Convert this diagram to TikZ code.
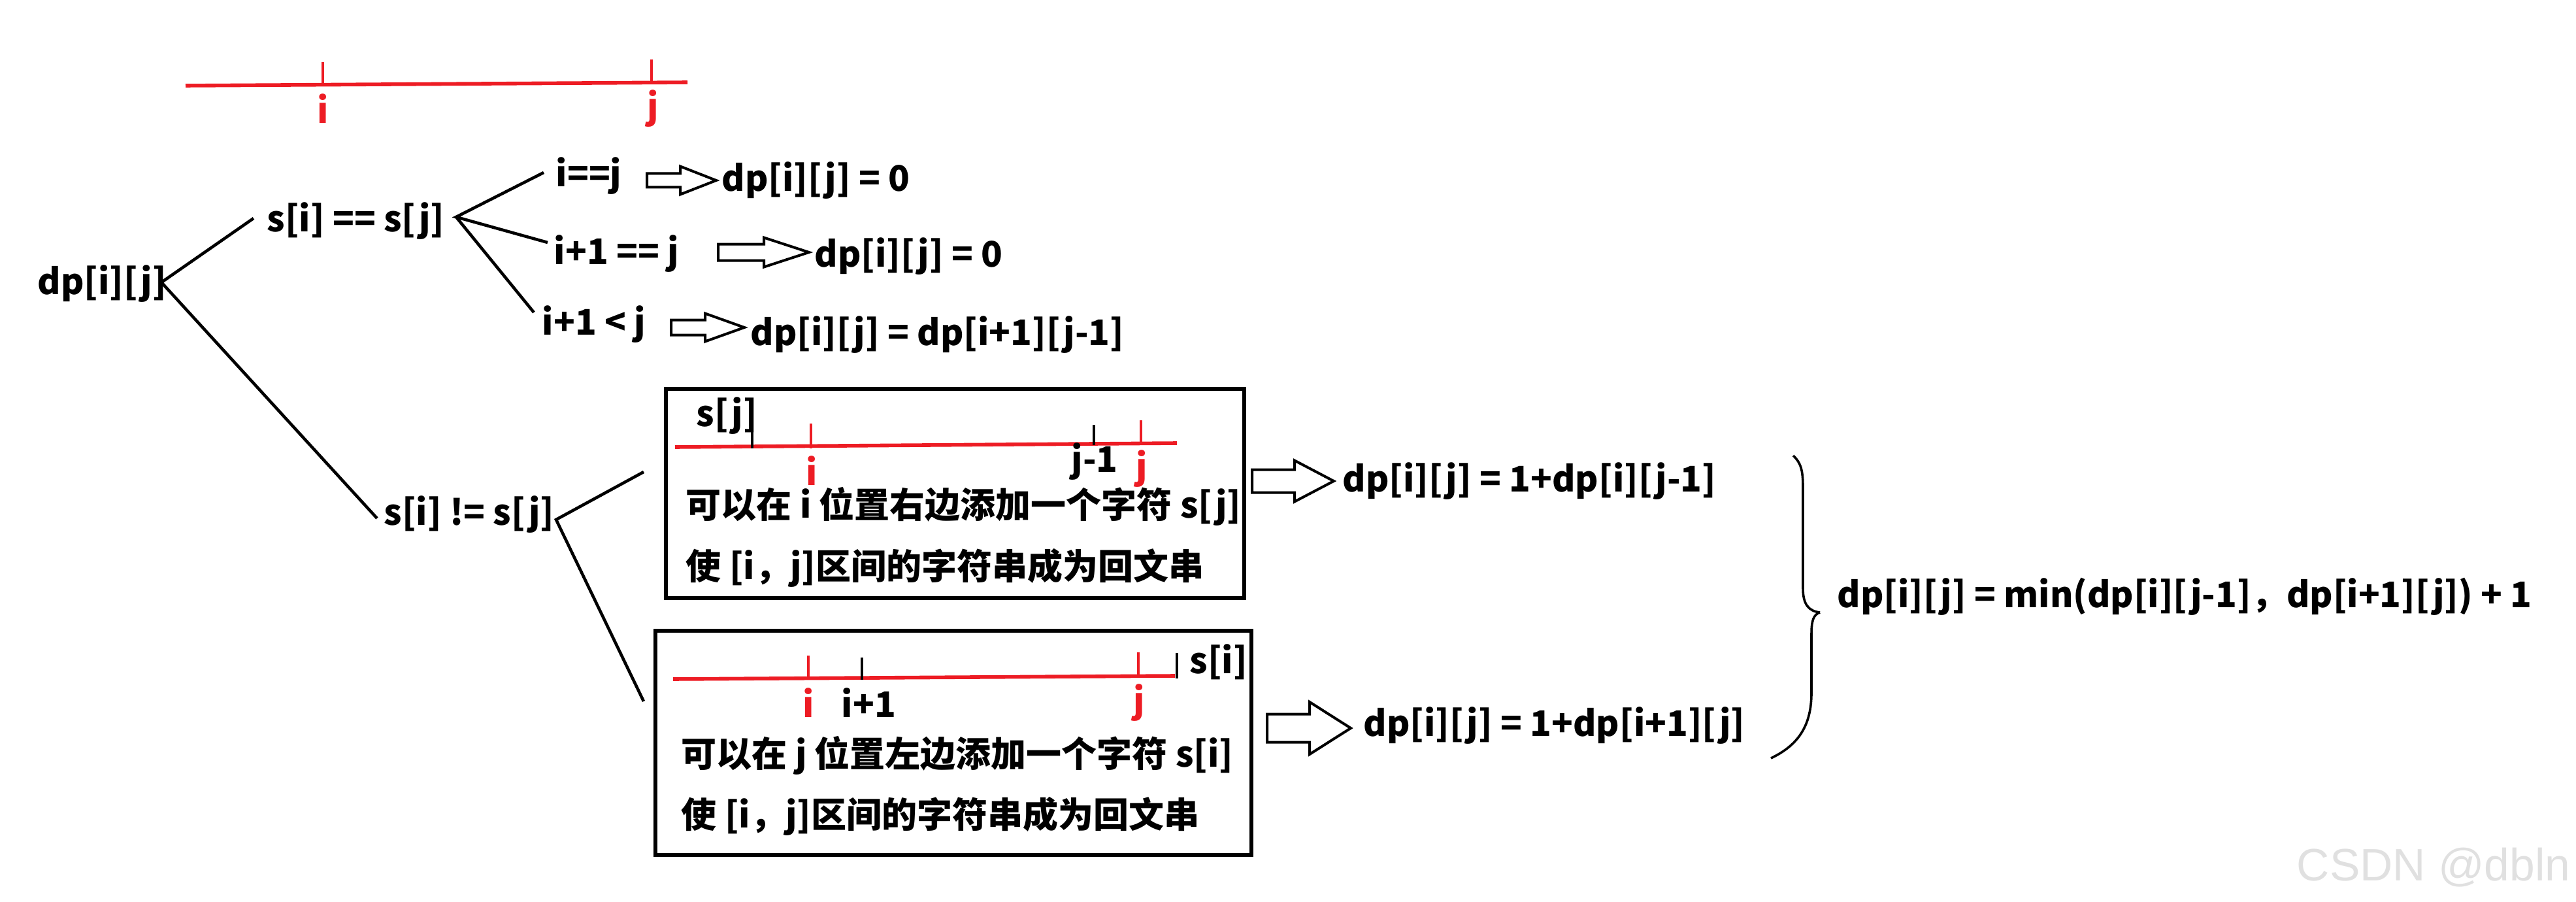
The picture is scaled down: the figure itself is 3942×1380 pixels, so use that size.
\documentclass[tikz,border=0pt]{standalone}
\usepackage{fontspec}
\setmainfont{Noto Sans CJK SC}
\newfontfamily\wmfont{Liberation Sans}
\newcommand\myfs{\fontsize{13.5pt}{16pt}\selectfont\bfseries}
\definecolor{pred}{HTML}{ED1C24}
\newcommand\barrow[6]{\draw[barr] ({#1},{#4-#5}) -- ({#2},{#4-#5}) -- ({#2},{#4-#6}) -- ({#3},{#4}) -- ({#2},{#4+#6}) -- ({#2},{#4+#5}) -- ({#1},{#4+#5}) -- cycle;}
\begin{document}
\begin{tikzpicture}[x=0.25pt,y=-0.25pt,
  txt/.style={anchor=base west,inner sep=0pt,font=\myfs},
  lbl/.style={anchor=base,inner sep=0pt,font=\myfs},
  conn/.style={line width=1.15pt},
  redl/.style={draw=pred,line width=1.4pt},
  tick/.style={line width=0.85pt},
  boxr/.style={draw,line width=1.5pt,inner sep=0pt,anchor=north west},
  barr/.style={line width=1pt,line join=miter}]
\useasboundingbox (0,0) rectangle (3942,1380);
% top scale
\draw[redl] (284,131) -- (1052,126);
\draw[tick,pred] (494,95) -- (494,130);
\draw[tick,pred] (997,91) -- (997,126);
\node[lbl,text=pred] (ti) at (494,189) {i};
\node[lbl,text=pred] (tj) at (999,183) {j};
% tree
\node[txt] (root) at (57,450) {dp[i][j]};
\node[txt] (eq) at (408,354) {s[i] == s[j]};
\node[txt] (c1) at (850,285) {i==j};
\node[txt] (r1) at (1104,293) {dp[i][j] = 0};
\node[txt] (c2) at (847,404) {i+1 == j};
\node[txt] (r2) at (1246,409) {dp[i][j] = 0};
\node[txt] (c3) at (829,513) {i+1 < j};
\node[txt] (r3) at (1148,528) {dp[i][j] = dp[i+1][j-1]};
\node[txt] (ne) at (587,803) {s[i] != s[j]};
\coordinate (b0) at (247,432);
\coordinate (e0a) at (388,334);
\coordinate (e0b) at (577,793);
\coordinate (b1) at (698,332);
\coordinate (e1a) at (832,264);
\coordinate (e1b) at (838,371);
\coordinate (e1c) at (817,478);
\coordinate (b2) at (851,795);
\coordinate (e2a) at (985,722);
\coordinate (e2b) at (985,1073);
\draw[conn] (e0a) -- (b0) -- (e0b);
\draw[conn] (e1a) -- (b1) -- (e1b);
\draw[conn] (b1) -- (e1c);
\draw[conn] (e2a) -- (b2) -- (e2b);
\barrow{990}{1041}{1096}{276}{10.5}{21.5}
\barrow{1099}{1169}{1238}{386}{12.5}{22.5}
\barrow{1027}{1079}{1139}{501}{11.5}{21.5}
% box 1
\node[boxr,minimum width=221.25pt,minimum height=80pt] (box1) at (1016,592) {};
\draw[redl] (1033,684) -- (1801,678);
\draw[tick] (1151,652) -- (1151,686);
\draw[tick,pred] (1241,648) -- (1241,686);
\draw[tick] (1674,650) -- (1674,681);
\draw[tick,pred] (1746,643) -- (1746,677);
\node[txt] (sj) at (1065,652) {s[j]};
\node[lbl,text=pred] (bi1) at (1242,742) {i};
\node[txt] (jm1) at (1639,722) {j-1};
\node[lbl,text=pred] (bj1) at (1747,733) {j};
\node[txt] (t11) at (1049,792) {可以在 i 位置右边添加一个字符 s[j]};
\node[txt] (t12) at (1049,886) {使 [i，j]区间的字符串成为回文串};
% box 2
\node[boxr,minimum width=228pt,minimum height=85.75pt] (box2) at (1000,962) {};
\draw[redl] (1030,1039) -- (1798,1034);
\draw[tick,pred] (1237,1003) -- (1237,1039);
\draw[tick] (1319,1006) -- (1319,1040);
\draw[tick,pred] (1742,998) -- (1742,1034);
\draw[tick] (1801,999) -- (1801,1038);
\node[txt] (si) at (1820,1030) {s[i]};
\node[lbl,text=pred] (bi2) at (1237,1097) {i};
\node[txt] (ip1) at (1287,1097) {i+1};
\node[lbl,text=pred] (bj2) at (1743,1091) {j};
\node[txt] (t21) at (1042,1173) {可以在 j 位置左边添加一个字符 s[i]};
\node[txt] (t22) at (1042,1266) {使 [i，j]区间的字符串成为回文串};
% results
\barrow{1916}{1981}{2041}{736}{17.5}{31.5}
\barrow{1939}{2004}{2067}{1114}{21.5}{40}
\node[txt] (r4) at (2054,752) {dp[i][j] = 1+dp[i][j-1]};
\node[txt] (r5) at (2086,1126) {dp[i][j] = 1+dp[i+1][j]};
% brace
\draw[line width=0.9pt] (2744,697) .. controls (2756,708) and (2759,720) .. (2759,745) -- (2759,900) .. controls (2759,925) and (2768,935) .. (2785,937);
\draw[line width=0.9pt] (2785,937) .. controls (2775,940) and (2772,950) .. (2772,970) -- (2772,1060) .. controls (2772,1110) and (2752,1140) .. (2710,1160);
\node[txt] (fin) at (2811,929) {dp[i][j] = min(dp[i][j-1]，dp[i+1][j]) + 1};
% watermark
\node[anchor=base west,inner sep=0pt,font=\wmfont\fontsize{17.4pt}{20pt}\selectfont,text=black!12] (wm) at (3514,1347) {CSDN @dbln};
\end{tikzpicture}
\end{document}
